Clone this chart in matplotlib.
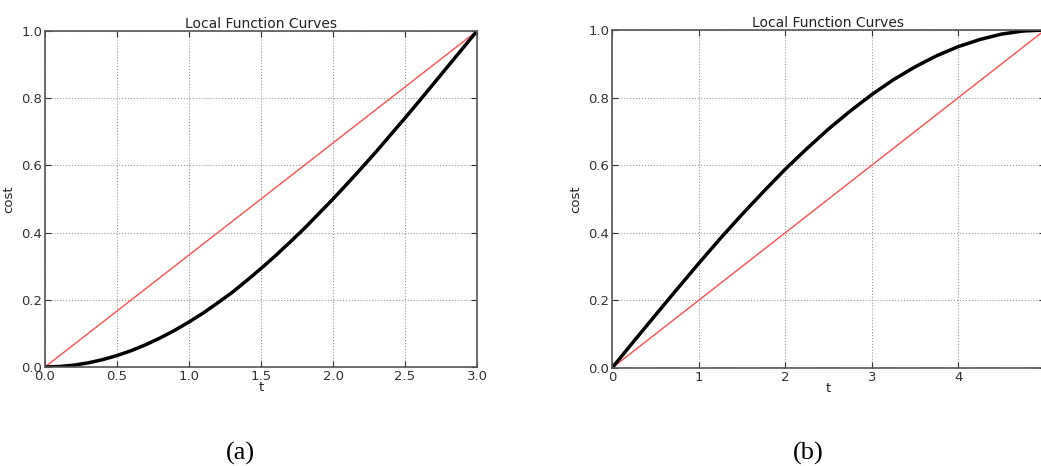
import numpy as np
import matplotlib.pyplot as plt

# panel (a): t from 0 to 3
t_a = [0, 0.1, 0.2, 0.3, 0.4, 0.5, 0.6, 0.7, 0.8, 0.9, 1.0, 1.1, 1.2, 1.3, 1.4, 1.5,
       1.6, 1.7, 1.8, 1.9, 2.0, 2.1, 2.2, 2.3, 2.4, 2.5, 2.6, 2.7, 2.8, 2.9, 3.0]
cost_a = [0, 0.0014, 0.0055, 0.0123, 0.0219, 0.0341, 0.0489, 0.0664, 0.0865, 0.109, 0.134,
          0.161, 0.191, 0.222, 0.257, 0.293, 0.331, 0.371, 0.412, 0.456, 0.5,
          0.546, 0.593, 0.641, 0.691, 0.741, 0.792, 0.844, 0.896, 0.948, 1.0]
lin_a_t = [0, 3.0]
lin_a_c = [0, 1.0]

# panel (b): t from 0 to 5
t_b = [0, 0.25, 0.5, 0.75, 1.0, 1.25, 1.5, 1.75, 2.0, 2.25, 2.5, 2.75, 3.0,
       3.25, 3.5, 3.75, 4.0, 4.25, 4.5, 4.75, 5.0]
cost_b = [0, 0.0785, 0.156, 0.233, 0.309, 0.383, 0.454, 0.522, 0.588, 0.649, 0.707,
          0.760, 0.809, 0.853, 0.891, 0.924, 0.951, 0.972, 0.988, 0.997, 1.0]
lin_b_t = [0, 5.0]
lin_b_c = [0, 1.0]

W, H = 1041, 466
fig = plt.figure(figsize=(W / 100, H / 100), dpi=100)

def box(l, t, r, b):
    return [l / W, 1 - b / H, (r - l) / W, (b - t) / H]

ax1 = fig.add_axes(box(45, 31, 477, 367))
ax2 = fig.add_axes(box(612, 30, 1045, 368))

panels = [
    (ax1, t_a, cost_a, lin_a_t, lin_a_c, 3.0, [0, 0.5, 1.0, 1.5, 2.0, 2.5, 3.0], ['0.0', '0.5', '1.0', '1.5', '2.0', '2.5', '3.0']),
    (ax2, t_b, cost_b, lin_b_t, lin_b_c, 5.0, [0, 1, 2, 3, 4], ['0', '1', '2', '3', '4']),
]

for ax, tt, cc, lt, lc, xmax, xt, xl in panels:
    ax.plot(lt, lc, color='#ff4d4d', lw=1.0)
    ax.plot(tt, cc, color='black', lw=2.5)
    ax.set_xlim(0, xmax)
    ax.set_ylim(0, 1.0)
    ax.set_xticks(xt)
    ax.set_xticklabels(xl)
    ax.set_yticks([0, 0.2, 0.4, 0.6, 0.8, 1.0])
    ax.set_yticklabels(['0.0', '0.2', '0.4', '0.6', '0.8', '1.0'])
    ax.grid(True, ls=':', color='#999999', lw=0.8)
    ax.tick_params(direction='in', top=True, right=True, length=4, pad=2, labelsize=9.5, colors='#333333')
    for s in ax.spines.values():
        s.set_color('#555555')
        s.set_linewidth(1.2)
    ax.set_title('Local Function Curves', fontsize=10, pad=2, color='#222222')
    ax.set_xlabel('t', fontsize=9.5, labelpad=-1, color='#222222')
    ax.set_ylabel('cost', fontsize=9.5, labelpad=4, color='#222222')

fig.text(240 / W, 1 - 453 / H, '(a)', family='Liberation Serif', fontsize=19, ha='center', va='center')
fig.text(808 / W, 1 - 453 / H, '(b)', family='Liberation Serif', fontsize=19, ha='center', va='center')

fig.savefig('out.png', dpi=100)
